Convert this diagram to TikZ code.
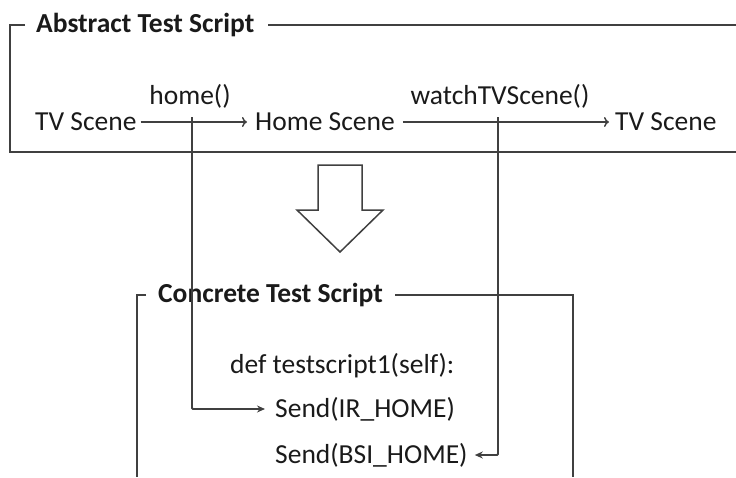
\documentclass[tikz,border=0pt]{standalone}
\usepackage{fontspec}
\setmainfont{Carlito}
\usetikzlibrary{arrows.meta}
\definecolor{ln}{HTML}{404040}
\definecolor{tx}{HTML}{1A1A1A}
\begin{document}
\begin{tikzpicture}[x=1pt,y=-1pt,
  txt/.style={inner sep=0pt,text=tx,font=\fontsize{27.5}{30}\selectfont},
  ttl/.style={inner sep=0pt,text=tx,font=\fontsize{27.5}{30}\selectfont\bfseries},
  frame/.style={draw=ln,line width=1.6pt},
  openarr/.style={draw=ln,line width=1.4pt,-{To[length=5pt,width=10pt]}},
  link/.style={draw=ln,line width=1.8pt,-{Stealth[length=8pt,width=7pt]}}]
\useasboundingbox (0,0) rectangle (736,477);
% abstract box
\node[ttl,anchor=west] (at) at (36,25) {Abstract Test Script};
\coordinate (a0) at (10,25);
\coordinate (a1) at (25,25);
\coordinate (a2) at (268,25);
\coordinate (a3) at (736,25);
\coordinate (a4) at (10,152);
\coordinate (a5) at (736,152);
\draw[frame] (a1) -- (a0) -- (a4) -- (a5);
\draw[frame] (a2) -- (a3);
% scenes
\node[txt,anchor=west] (s1) at (35,122) {TV Scene};
\node[txt,anchor=west] (s2) at (255,122) {Home Scene};
\node[txt,anchor=west] (s3) at (615,122) {TV Scene};
\node[txt] (l1) at (190,96) {home()};
\node[txt] (l2) at (500,96) {watchTVScene()};
\draw[openarr] ([xshift=4pt]s1.east) -- ([xshift=-8pt]s2.west);
\draw[openarr] ([xshift=8pt]s2.east) -- ([xshift=-6pt]s3.west);
% hollow arrow
\coordinate (h1) at (318,165);
\coordinate (h2) at (362,165);
\coordinate (h3) at (362,210);
\coordinate (h4) at (383,210);
\coordinate (h5) at (340,252);
\coordinate (h6) at (297,210);
\coordinate (h7) at (318,210);
\draw[draw=ln,line width=1.5pt,line join=miter,fill=white] (h1) -- (h2) -- (h3) -- (h4) -- (h5) -- (h6) -- (h7) -- cycle;
% concrete box
\node[ttl,anchor=west] (ct) at (158,295) {Concrete Test Script};
\coordinate (c0) at (137,295);
\coordinate (c1) at (146,295);
\coordinate (c2) at (395,295);
\coordinate (c3) at (573,295);
\coordinate (c4) at (137,477);
\coordinate (c5) at (573,477);
\draw[frame] (c1) -- (c0) -- (c4);
\draw[frame] (c2) -- (c3) -- (c5);
% code
\node[txt,anchor=west] (d0) at (230,366) {def testscript1(self):};
\node[txt,anchor=west] (d1) at (275,409) {Send(IR\_HOME)};
\node[txt,anchor=west] (d2) at (275,455) {Send(BSI\_HOME)};
% links
\coordinate (p1) at (192,117);
\coordinate (p2) at (192,409);
\coordinate (q1) at (498,117);
\coordinate (q2) at (498,455);
\draw[link,rounded corners=1pt] (p1) -- (p2) -- ([xshift=-10pt]d1.west);
\draw[link,rounded corners=1pt] (q1) -- (q2) -- ([xshift=7pt]d2.east);
\end{tikzpicture}
\end{document}
